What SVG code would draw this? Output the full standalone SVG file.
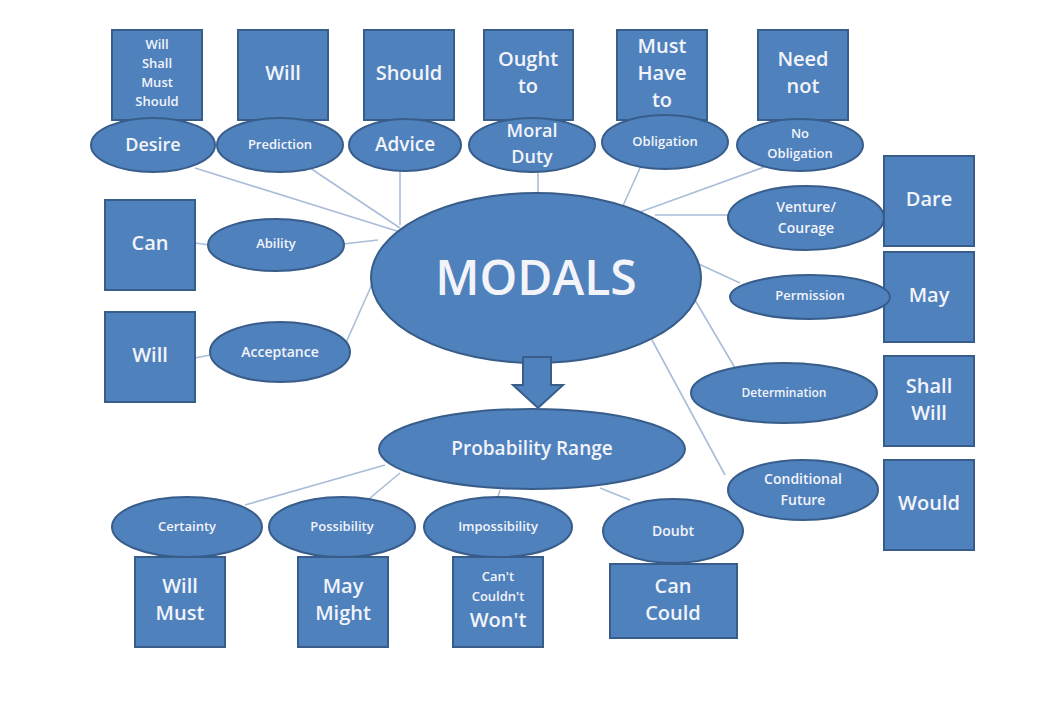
<svg xmlns="http://www.w3.org/2000/svg" width="1062" height="702" viewBox="0 0 1062 702">
<style>
.s{fill:#4f81bd;stroke:#385d8a;stroke-width:2}
.t{fill:#f2f4fa;font-family:"Open Sans","DejaVu Sans",sans-serif;text-anchor:middle;dominant-baseline:middle;font-weight:600}
.c line{stroke:#a9bdd8;stroke-width:1.6}
</style>
<rect width="1062" height="702" fill="#fff"/>
<g class="c" id="connectors">
<line x1="195" y1="168" x2="400" y2="232"/><line x1="310" y1="168" x2="400" y2="228"/><line x1="400" y1="170" x2="400" y2="225"/>
<line x1="538" y1="172" x2="538" y2="193"/><line x1="640" y1="168" x2="622" y2="208"/><line x1="770" y1="165" x2="640" y2="212"/>
<line x1="730" y1="215" x2="655" y2="215"/><line x1="740" y1="283" x2="690" y2="260"/><line x1="735" y1="368" x2="695" y2="300"/>
<line x1="725" y1="475" x2="652" y2="340"/><line x1="343" y1="244" x2="378" y2="240"/><line x1="345" y1="345" x2="385" y2="255"/>
<line x1="195" y1="243" x2="210" y2="245"/><line x1="195" y1="358" x2="210" y2="355"/>
<line x1="385" y1="465" x2="245" y2="505"/><line x1="400" y1="473" x2="370" y2="498"/><line x1="500" y1="490" x2="498" y2="497"/><line x1="600" y1="488" x2="630" y2="500"/>
</g>
<g id="n-desire"><rect class="s" x="112" y="30" width="90" height="90"/><text class="t" x="157" y="75" font-size="13"><tspan x="157" dy="-29">Will</tspan><tspan x="157" dy="19">Shall</tspan><tspan x="157" dy="19">Must</tspan><tspan x="157" dy="19">Should</tspan></text><ellipse class="s" cx="153" cy="145" rx="62" ry="27"/><text class="t" x="153" y="146" font-size="18">Desire</text></g>
<g id="n-prediction"><rect class="s" x="238" y="30" width="90" height="90"/><text class="t" x="283" y="75" font-size="20">Will</text><ellipse class="s" cx="280" cy="145" rx="63" ry="27"/><text class="t" x="280" y="146" font-size="13">Prediction</text></g>
<g id="n-advice"><rect class="s" x="364" y="30" width="90" height="90"/><text class="t" x="409" y="75" font-size="20">Should</text><ellipse class="s" cx="405" cy="145" rx="56" ry="26"/><text class="t" x="405" y="146" font-size="19">Advice</text></g>
<g id="n-moral"><rect class="s" x="484" y="30" width="89" height="90"/><text class="t" x="528" y="75" font-size="20"><tspan x="528" dy="-14">Ought</tspan><tspan x="528" dy="27">to</tspan></text><ellipse class="s" cx="532" cy="145" rx="63" ry="27"/><text class="t" x="532" y="145" font-size="18"><tspan x="532" dy="-13">Moral</tspan><tspan x="532" dy="26">Duty</tspan></text></g>
<g id="n-obligation"><rect class="s" x="617" y="30" width="90" height="90"/><text class="t" x="662" y="75" font-size="20"><tspan x="662" dy="-27">Must</tspan><tspan x="662" dy="27">Have</tspan><tspan x="662" dy="27">to</tspan></text><ellipse class="s" cx="665" cy="142" rx="63" ry="27"/><text class="t" x="665" y="143" font-size="13">Obligation</text></g>
<g id="n-noobligation"><rect class="s" x="758" y="30" width="90" height="90"/><text class="t" x="803" y="75" font-size="20"><tspan x="803" dy="-14">Need</tspan><tspan x="803" dy="27">not</tspan></text><ellipse class="s" cx="800" cy="145" rx="63" ry="26"/><text class="t" x="800" y="145" font-size="13"><tspan x="800" dy="-10">No</tspan><tspan x="800" dy="20">Obligation</tspan></text></g>
<g id="n-ability"><rect class="s" x="105" y="200" width="90" height="90"/><text class="t" x="150" y="245" font-size="20">Can</text><ellipse class="s" cx="276" cy="245" rx="68" ry="26"/><text class="t" x="276" y="245" font-size="13">Ability</text></g>
<g id="n-acceptance"><rect class="s" x="105" y="312" width="90" height="90"/><text class="t" x="150" y="357" font-size="20">Will</text><ellipse class="s" cx="280" cy="352" rx="70" ry="30"/><text class="t" x="280" y="353" font-size="14">Acceptance</text></g>
<g id="n-modals"><ellipse class="s" cx="536" cy="278" rx="165" ry="85"/><text class="t" x="536" y="282" font-size="48" font-weight="400">MODALS</text></g>
<g id="n-venture"><rect class="s" x="884" y="156" width="90" height="90"/><text class="t" x="929" y="201" font-size="20">Dare</text><ellipse class="s" cx="806" cy="218" rx="78" ry="32"/><text class="t" x="806" y="218" font-size="14"><tspan x="806" dy="-10">Venture/</tspan><tspan x="806" dy="21">Courage</tspan></text></g>
<g id="n-permission"><rect class="s" x="884" y="252" width="90" height="90"/><text class="t" x="929" y="297" font-size="20">May</text><ellipse class="s" cx="810" cy="297" rx="80" ry="22"/><text class="t" x="810" y="297" font-size="13">Permission</text></g>
<g id="n-determination"><rect class="s" x="884" y="356" width="90" height="90"/><text class="t" x="929" y="401" font-size="20"><tspan x="929" dy="-13">Shall</tspan><tspan x="929" dy="27">Will</tspan></text><ellipse class="s" cx="784" cy="393" rx="93" ry="30"/><text class="t" x="784" y="394" font-size="12">Determination</text></g>
<g id="n-conditional"><rect class="s" x="884" y="460" width="90" height="90"/><text class="t" x="929" y="505" font-size="20">Would</text><ellipse class="s" cx="803" cy="490" rx="75" ry="30"/><text class="t" x="803" y="490" font-size="14"><tspan x="803" dy="-10">Conditional</tspan><tspan x="803" dy="21">Future</tspan></text></g>
<g id="n-arrow"><path class="s" d="M523,357 H551 V385 H563 L538,408 L513,385 H523 Z"/></g>
<g id="n-probability"><ellipse class="s" cx="532" cy="449" rx="153" ry="40"/><text class="t" x="532" y="450" font-size="19">Probability Range</text></g>
<g id="n-certainty"><rect class="s" x="135" y="557" width="90" height="90"/><text class="t" x="180" y="602" font-size="20"><tspan x="180" dy="-14">Will</tspan><tspan x="180" dy="27">Must</tspan></text><ellipse class="s" cx="187" cy="527" rx="75" ry="30"/><text class="t" x="187" y="528" font-size="13">Certainty</text></g>
<g id="n-possibility"><rect class="s" x="298" y="557" width="90" height="90"/><text class="t" x="343" y="602" font-size="20"><tspan x="343" dy="-14">May</tspan><tspan x="343" dy="27">Might</tspan></text><ellipse class="s" cx="342" cy="527" rx="73" ry="30"/><text class="t" x="342" y="528" font-size="13">Possibility</text></g>
<g id="n-impossibility"><rect class="s" x="453" y="557" width="90" height="90"/><text class="t" x="498" y="602" font-size="13"><tspan x="498" dy="-24">Can't</tspan><tspan x="498" dy="20">Couldn't</tspan><tspan x="498" dy="24" font-size="20">Won't</tspan></text><ellipse class="s" cx="498" cy="527" rx="74" ry="30"/><text class="t" x="498" y="528" font-size="13">Impossibility</text></g>
<g id="n-doubt"><rect class="s" x="610" y="564" width="127" height="74"/><text class="t" x="673" y="601" font-size="20"><tspan x="673" dy="-13">Can</tspan><tspan x="673" dy="27">Could</tspan></text><ellipse class="s" cx="673" cy="531" rx="70" ry="32"/><text class="t" x="673" y="532" font-size="14">Doubt</text></g>
</svg>
